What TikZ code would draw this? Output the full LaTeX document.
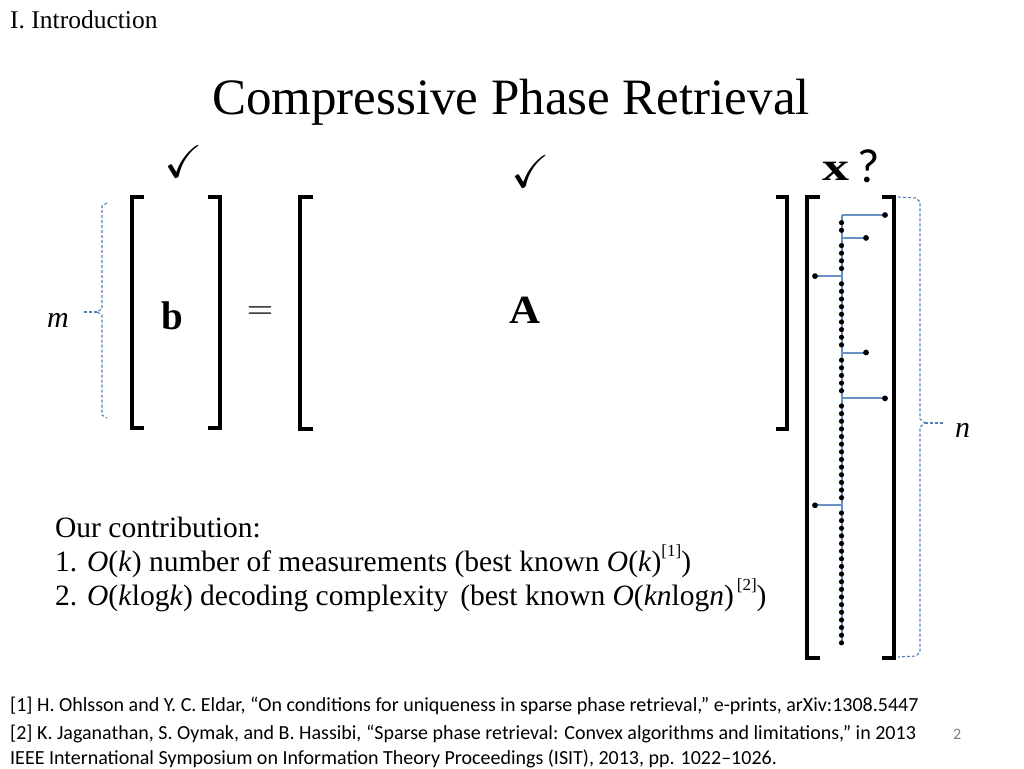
\documentclass[tikz,border=0pt]{standalone}
\usepackage{fontspec}
\setmainfont{Liberation Serif}
\newfontfamily\calib{Carlito}
\usepackage{amssymb}
\usepackage{graphicx}
\definecolor{stemblue}{RGB}{105,145,195}
\definecolor{braceblue}{RGB}{85,125,185}
\definecolor{pagegray}{RGB}{128,128,128}
\newcommand{\supref}[1]{\raisebox{0.5em}{\fontsize{17}{20}\selectfont #1}}
\tikzset{
  brk/.style={line width=3.4pt, line cap=rect, black},
  bracebl/.style={braceblue, line width=1.1pt, dash pattern=on 3pt off 2pt},
  stemline/.style={stemblue, line width=2pt},
  txt/.style={inner sep=0pt, anchor=base west},
  ctr/.style={inner sep=0pt, anchor=center},
}
\begin{document}
\begin{tikzpicture}[x=1pt,y=-1pt]
\useasboundingbox (0,0) rectangle (1024,768);
\fill[white] (0,0) rectangle (1024,768);

% header and title
\node[txt] (sec) at (10,28.5) {\fontsize{25.5}{28}\selectfont I. Introduction};
\node[inner sep=0pt, anchor=base] (title) at (511,114) {\fontsize{51}{56}\selectfont Compressive Phase Retrieval};

% check marks
\node[ctr] (chk1) at (184,162) {\scalebox{4.6}{$\checkmark$}};
\node[ctr] (chk2) at (531,172) {\scalebox{4.6}{$\checkmark$}};

% x label
\node[ctr] (xlab) at (836,171) {\scalebox{5.4}[4.0]{$\mathbf{x}$}};
\node[ctr] (qm) at (869,166) {\calib\fontsize{48}{50}\selectfont ?};

% brackets
\draw[brk] (142,197) -- (132,197) -- (132,428) -- (142,428);
\draw[brk] (210,197) -- (220,197) -- (220,428) -- (210,428);
\draw[brk] (311,197) -- (300,197) -- (300,429) -- (311,429);
\draw[brk] (778,197) -- (787,197) -- (787,429) -- (778,429);
\draw[brk] (818,197) -- (807,197) -- (807,658) -- (818,658);
\draw[brk] (884,197) -- (894,197) -- (894,658) -- (884,658);

% b, =, A
\node[ctr] (bvec) at (172,316) {\scalebox{3.9}[4.0]{$\mathbf{b}$}};
\node[ctr] (eq) at (260,313) {\scalebox{3.4}[3.2]{$=$}};
\node[ctr] (amat) at (525,310) {\scalebox{4.3}[4.0]{$\mathbf{A}$}};

% m brace
\draw[bracebl] (107,203) -- (102,206) -- (102,309) -- (97,312) -- (102,315) -- (102,415) -- (107,418);
\draw[bracebl] (97,312) -- (82,312);
\node[txt] (mlab) at (47,327) {\fontsize{30}{32}\selectfont\textit{m}};

% n brace
\draw[bracebl] (898,197) -- (916,198) -- (920,202) -- (920,419) -- (925,423) -- (920,427) -- (920,652) -- (916,656) -- (898,657);
\draw[bracebl] (925,423) -- (943,423);
\node[txt] (nlab) at (955,437) {\fontsize{30}{32}\selectfont\textit{n}};

% sparse vector stem
\def\dy{7.64}
\coordinate (stemtop) at (841.5,215);
\coordinate (stembot) at (841.5,643);
\draw[stemline] (stemtop) -- (stembot);
\foreach \i/\ex in {0/885, 3/866, 8/815, 18/866, 24/885, 38/815}{
  \draw[stemline] (841.5,215+\i*\dy) -- (\ex,215+\i*\dy);
  \fill[black] (\ex,215+\i*\dy) circle (2.9);
}
\foreach \i in {1,...,56}{
  \ifnum\i=3\else\ifnum\i=8\else\ifnum\i=18\else\ifnum\i=24\else\ifnum\i=38\else
    \fill[black] (841.5,215+\i*\dy) circle (2.6);
  \fi\fi\fi\fi\fi
}

% contribution
\node[txt] (c0) at (55,537) {\fontsize{29.5}{32}\selectfont Our contribution:};
\node[txt] (c1) at (55,571) {\fontsize{29.5}{32}\selectfont 1. \textit{O}(\textit{k}) number of measurements (best known \textit{O}(\textit{k})\supref{[1]})};
\node[txt] (c2) at (55,605) {\fontsize{29.5}{32}\selectfont 2. \textit{O}(\textit{k}log\textit{k}) decoding complexity\hspace{0.4em}(best known \textit{O}(\textit{kn}log\textit{n})\hspace{0.1em}\supref{[2]})};

% references
\node[txt] (r1) at (10,711) {\calib\fontsize{20}{22}\selectfont [1] H. Ohlsson and Y. C. Eldar, “On conditions for uniqueness in sparse phase retrieval,” e-prints, arXiv:1308.5447};
\node[txt] (r2) at (10,739) {\calib\fontsize{20}{22}\selectfont [2] K. Jaganathan, S. Oymak, and B. Hassibi, “Sparse phase retrieval: Convex algorithms and limitations,” in 2013};
\node[txt] (r3) at (10,764) {\calib\fontsize{20}{22}\selectfont IEEE International Symposium on Information Theory Proceedings (ISIT), 2013, pp. 1022–1026.};
\node[txt] (pg) at (953,739) {\calib\fontsize{16}{18}\selectfont\color{pagegray} 2};
\end{tikzpicture}
\end{document}
